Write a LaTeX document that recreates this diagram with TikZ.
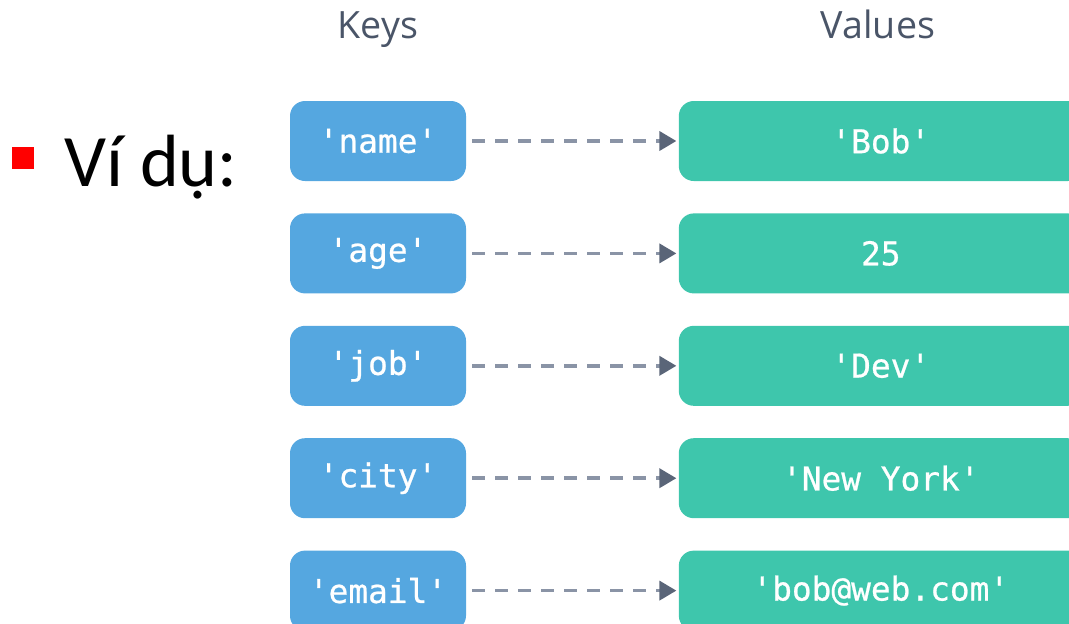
\documentclass[tikz,border=0pt]{standalone}
\usepackage{fontspec}
\usepackage{xcolor}
\usepackage{tikz}
\setmainfont{Carlito}
\newfontfamily\headfont{Open Sans}
\newfontfamily\codefont[FakeBold=0.7]{DejaVu Sans Mono}
\definecolor{keyblue}{RGB}{85, 167, 224}
\definecolor{valgreen}{RGB}{62, 198, 172}
\definecolor{headgray}{RGB}{74, 85, 104}
\definecolor{dashgray}{RGB}{138, 148, 166}
\definecolor{tipgray}{RGB}{90, 101, 120}
\usetikzlibrary{arrows.meta, positioning}

\begin{document}
\begin{tikzpicture}[
    x=0.5pt, y=-0.5pt,
    node distance=15.8pt and 106pt,
    keybox/.style={rectangle, fill=keyblue, text=white, minimum width=88pt,
                minimum height=40pt, rounded corners=7.5pt, inner sep=0pt,
                font=\codefont\fontsize{16.4}{18}\selectfont},
    valbox/.style={rectangle, fill=valgreen, text=white, minimum width=202pt,
                minimum height=40pt, rounded corners=7.5pt, inner sep=0pt,
                font=\codefont\fontsize{16.4}{18}\selectfont},
    head/.style={text=headgray, anchor=base, inner sep=0pt,
                font=\headfont\fontsize{18.8}{22}\selectfont},
    arrow/.style={draw=dashgray, line width=1.8pt, dash pattern=on 6.5pt off 5pt,
                -{Triangle[length=8.5pt, width=9.5pt, color=tipgray, fill=tipgray]},
                shorten <=3pt, shorten >=1pt}
]
    \useasboundingbox (0,0) rectangle (1069,623);
    \clip (0,0) rectangle (1069,623);

    % left bullet
    \node[fill=red, minimum size=11pt, inner sep=0pt] (bullet) at (23,158) {};
    \node[anchor=base west, inner sep=0pt, font=\fontsize{37}{42}\selectfont] (vidu) at (64,186) {Ví dụ:};

    % keys and values
    \node[keybox] (kname) at (378,141) {'name'};
    \node[keybox, below=of kname] (kage) {'age'};
    \node[keybox, below=of kage] (kjob) {'job'};
    \node[keybox, below=of kjob] (kcity) {'city'};
    \node[keybox, below=of kcity] (kemail) {'email'};

    \node[valbox, right=of kname] (vname) {'Bob'};
    \node[valbox, right=of kage] (vage) {25};
    \node[valbox, right=of kjob] (vjob) {'Dev'};
    \node[valbox, right=of kcity] (vcity) {'New York'};
    \node[valbox, right=of kemail] (vemail) {'bob@web.com'};

    \node[head] (keys) at (378,38) {Keys};
    \node[head] (values) at (878,38) {Values};

    \draw[arrow] (kname) -- (vname);
    \draw[arrow] (kage) -- (vage);
    \draw[arrow] (kjob) -- (vjob);
    \draw[arrow] (kcity) -- (vcity);
    \draw[arrow] (kemail) -- (vemail);
\end{tikzpicture}
\end{document}
